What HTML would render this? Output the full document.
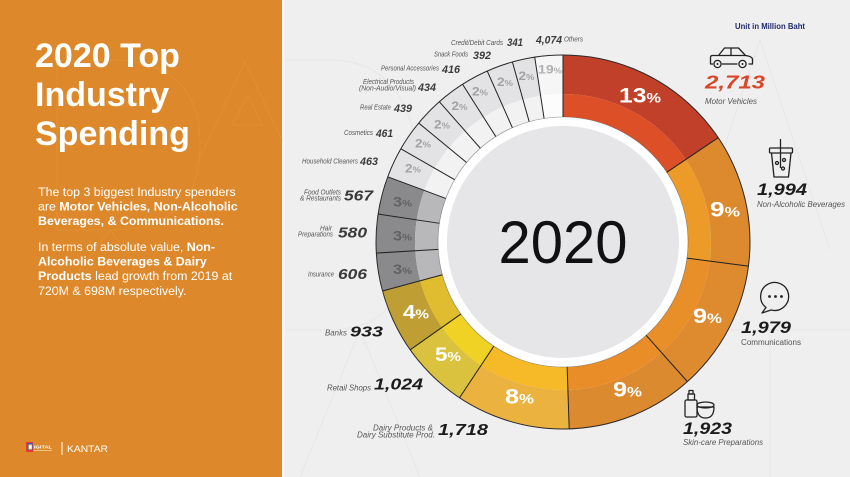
<!DOCTYPE html>
<html>
<head>
<meta charset="utf-8">
<style>
html,body{margin:0;padding:0;background:#efefef;}
body{width:850px;height:477px;overflow:hidden;}
svg{display:block;font-family:"Liberation Sans",Arial,sans-serif;}
</style>
</head>
<body>
<svg width="850" height="477" viewBox="0 0 850 477" xmlns="http://www.w3.org/2000/svg">
  <!-- backgrounds -->
  <rect x="0" y="0" width="850" height="477" fill="#efefef"/>
  <!-- faint watermark letters right -->
  <g fill="none" stroke="#e7e7e7" stroke-width="1">
    <path d="M285 60 V330 H330 Q420 330 420 195 Q420 60 330 60 Z"/>
    <path d="M300 477 L360 330 L420 477"/>
    <path d="M690 250 L760 40 L830 250"/>
    <path d="M720 330 H850 M770 330 V477"/>
  </g>
  <rect x="0" y="0" width="282" height="477" fill="#dd892b"/>
  <rect x="282" y="0" width="3" height="477" fill="#f6f6f6"/>
  <!-- faint watermark letters left -->
  <g fill="none" stroke="#e18f31" stroke-width="1">
    <path d="M57 60 V230 H110 Q200 230 200 145 Q200 60 110 60 Z"/>
    <path d="M195 168 L245 62 L282 140"/>
    <path d="M232 125 L248 95 L262 125 Z"/>
    <path d="M58 300 L110 230 L165 300"/>
  </g>

  <!-- Left panel text -->
  <g fill="#ffffff" font-weight="bold" font-size="34">
    <text x="35" y="67">2020 Top</text>
    <text x="35" y="106">Industry</text>
    <text x="35" y="145">Spending</text>
  </g>
  <g fill="#ffffff" font-size="12.4">
    <text x="38" y="196">The top 3 biggest Industry spenders</text>
    <text x="38" y="210.5">are <tspan font-weight="bold">Motor Vehicles, Non-Alcoholic</tspan></text>
    <text x="38" y="225" font-weight="bold">Beverages, &amp; Communications.</text>
    <text x="38" y="251">In terms of absolute value, <tspan font-weight="bold">Non-</tspan></text>
    <text x="38" y="265.5" font-weight="bold">Alcoholic Beverages &amp; Dairy</text>
    <text x="38" y="280"><tspan font-weight="bold">Products</tspan> lead growth from 2019 at</text>
    <text x="38" y="295">720M &amp; 698M respectively.</text>
  </g>
  <!-- logo -->
  <g>
    <rect x="26" y="442" width="7" height="10" fill="#e53b2c"/>
    <rect x="27.5" y="443" width="5" height="7" fill="#2f5fd0"/>
    <rect x="28.5" y="444.5" width="3.5" height="5" fill="#f7d23a"/>
    <rect x="29" y="445.5" width="2.5" height="3" fill="#ffffff"/>
    <text x="34" y="448.5" font-size="4.6" font-weight="bold" fill="#ffffff" textLength="18" lengthAdjust="spacingAndGlyphs">IGITAL</text>
    <rect x="34" y="450" width="18" height="1" fill="#f0c080"/>
    <rect x="61.5" y="442" width="1" height="13" fill="#ffffff"/>
    <text x="67" y="452" font-size="8.8" fill="#ffffff" textLength="41" lengthAdjust="spacingAndGlyphs">KANTAR</text>
  </g>

  <!-- Donut -->
  <g transform="rotate(-90 563 242)" fill="none">
    <circle cx="563" cy="242" r="167.5" pathLength="360" stroke="#c1402a" stroke-width="39" stroke-dasharray="56.4 360" stroke-dashoffset="0"/>
    <circle cx="563" cy="242" r="167.5" pathLength="360" stroke="#dd8a2f" stroke-width="39" stroke-dasharray="41.6 360" stroke-dashoffset="-56.1"/>
    <circle cx="563" cy="242" r="167.5" pathLength="360" stroke="#de8a2e" stroke-width="39" stroke-dasharray="41.2 360" stroke-dashoffset="-97.4"/>
    <circle cx="563" cy="242" r="167.5" pathLength="360" stroke="#dc8a2f" stroke-width="39" stroke-dasharray="40.1 360" stroke-dashoffset="-138.3"/>
    <circle cx="563" cy="242" r="167.5" pathLength="360" stroke="#ebb240" stroke-width="39" stroke-dasharray="35.8 360" stroke-dashoffset="-178.1"/>
    <circle cx="563" cy="242" r="167.5" pathLength="360" stroke="#dbc23e" stroke-width="39" stroke-dasharray="21.5 360" stroke-dashoffset="-213.6"/>
    <circle cx="563" cy="242" r="167.5" pathLength="360" stroke="#bf9f34" stroke-width="39" stroke-dasharray="20.3 360" stroke-dashoffset="-234.8"/>
    <circle cx="563" cy="242" r="167.5" pathLength="360" stroke="#8a8a8c" stroke-width="39" stroke-dasharray="35.9 360" stroke-dashoffset="-254.8"/>
    <circle cx="563" cy="242" r="167.5" pathLength="360" stroke="#e3e3e5" stroke-width="39" stroke-dasharray="61.2 360" stroke-dashoffset="-290.4"/>
    <circle cx="563" cy="242" r="167.5" pathLength="360" stroke="#f6f6f7" stroke-width="39" stroke-dasharray="8.7 360" stroke-dashoffset="-351.3"/>
    <circle cx="563" cy="242" r="136.5" pathLength="360" stroke="#dc4f27" stroke-width="23" stroke-dasharray="56.4 360" stroke-dashoffset="0"/>
    <circle cx="563" cy="242" r="136.5" pathLength="360" stroke="#ec9a28" stroke-width="23" stroke-dasharray="41.6 360" stroke-dashoffset="-56.1"/>
    <circle cx="563" cy="242" r="136.5" pathLength="360" stroke="#e98f2a" stroke-width="23" stroke-dasharray="41.2 360" stroke-dashoffset="-97.4"/>
    <circle cx="563" cy="242" r="136.5" pathLength="360" stroke="#e98d29" stroke-width="23" stroke-dasharray="40.1 360" stroke-dashoffset="-138.3"/>
    <circle cx="563" cy="242" r="136.5" pathLength="360" stroke="#f6b927" stroke-width="23" stroke-dasharray="35.8 360" stroke-dashoffset="-178.1"/>
    <circle cx="563" cy="242" r="136.5" pathLength="360" stroke="#efd224" stroke-width="23" stroke-dasharray="21.5 360" stroke-dashoffset="-213.6"/>
    <circle cx="563" cy="242" r="136.5" pathLength="360" stroke="#dfbd2e" stroke-width="23" stroke-dasharray="20.3 360" stroke-dashoffset="-234.8"/>
    <circle cx="563" cy="242" r="136.5" pathLength="360" stroke="#b8b8ba" stroke-width="23" stroke-dasharray="35.9 360" stroke-dashoffset="-254.8"/>
    <circle cx="563" cy="242" r="136.5" pathLength="360" stroke="#f2f2f3" stroke-width="23" stroke-dasharray="61.2 360" stroke-dashoffset="-290.4"/>
    <circle cx="563" cy="242" r="136.5" pathLength="360" stroke="#fcfcfc" stroke-width="23" stroke-dasharray="8.7 360" stroke-dashoffset="-351.3"/>
  </g>
  <circle cx="563" cy="242" r="125" fill="#ffffff"/>
  <circle cx="563" cy="242" r="116" fill="#e6e6e8"/>
  <circle cx="563" cy="242" r="187" fill="none" stroke="#2a2a2a" stroke-width="1"/>
  <circle cx="563" cy="242" r="125" fill="none" stroke="#444" stroke-width="0.6" stroke-opacity="0.6"/>
  <g stroke="#222" stroke-width="1">
    <line x1="563" y1="117" x2="563" y2="55"/>
    <line x1="563" y1="117" x2="563" y2="55" transform="rotate(56.1 563 242)"/>
    <line x1="563" y1="117" x2="563" y2="55" transform="rotate(97.4 563 242)"/>
    <line x1="563" y1="117" x2="563" y2="55" transform="rotate(138.3 563 242)"/>
    <line x1="563" y1="117" x2="563" y2="55" transform="rotate(178.1 563 242)"/>
    <line x1="563" y1="117" x2="563" y2="55" transform="rotate(213.6 563 242)"/>
    <line x1="563" y1="117" x2="563" y2="55" transform="rotate(234.8 563 242)"/>
    <line x1="563" y1="117" x2="563" y2="55" transform="rotate(254.8 563 242)"/>
    <line x1="563" y1="117" x2="563" y2="55" transform="rotate(266.6 563 242)"/>
    <line x1="563" y1="117" x2="563" y2="55" transform="rotate(278.6 563 242)"/>
    <line x1="563" y1="117" x2="563" y2="55" transform="rotate(290.4 563 242)"/>
    <line x1="563" y1="117" x2="563" y2="55" transform="rotate(299.9 563 242)"/>
    <line x1="563" y1="117" x2="563" y2="55" transform="rotate(309.5 563 242)"/>
    <line x1="563" y1="117" x2="563" y2="55" transform="rotate(318.6 563 242)"/>
    <line x1="563" y1="117" x2="563" y2="55" transform="rotate(327.5 563 242)"/>
    <line x1="563" y1="117" x2="563" y2="55" transform="rotate(336.1 563 242)"/>
    <line x1="563" y1="117" x2="563" y2="55" transform="rotate(344.3 563 242)"/>
    <line x1="563" y1="117" x2="563" y2="55" transform="rotate(351.3 563 242)"/>
  </g>

  <!-- center year -->
  <text x="563" y="263" text-anchor="middle" font-size="60" fill="#111" textLength="129" lengthAdjust="spacingAndGlyphs">2020</text>

  <!-- ring percent labels -->
  <g font-weight="bold" fill="#ffffff" text-anchor="middle" font-size="21">
    <text x="640" y="102.5" textLength="42" lengthAdjust="spacingAndGlyphs">13<tspan font-size="14">%</tspan></text>
    <text x="725" y="216.5" textLength="30" lengthAdjust="spacingAndGlyphs">9<tspan font-size="14">%</tspan></text>
    <text x="707.5" y="323" textLength="29" lengthAdjust="spacingAndGlyphs">9<tspan font-size="14">%</tspan></text>
    <text x="627.5" y="396.5" textLength="29" lengthAdjust="spacingAndGlyphs">9<tspan font-size="14">%</tspan></text>
    <text x="519.5" y="403.3" textLength="29" lengthAdjust="spacingAndGlyphs">8<tspan font-size="14">%</tspan></text>
    <text x="448" y="361" textLength="26" lengthAdjust="spacingAndGlyphs" font-size="19">5<tspan font-size="13">%</tspan></text>
    <text x="416" y="318.3" textLength="26" lengthAdjust="spacingAndGlyphs" font-size="19">4<tspan font-size="13">%</tspan></text>
  </g>
  <g font-weight="bold" fill="#626262" text-anchor="middle" font-size="14">
    <text x="402.5" y="206.5" textLength="19" lengthAdjust="spacingAndGlyphs">3<tspan font-size="9.5">%</tspan></text>
    <text x="402.5" y="240.5" textLength="19" lengthAdjust="spacingAndGlyphs">3<tspan font-size="9.5">%</tspan></text>
    <text x="402.5" y="274" textLength="19" lengthAdjust="spacingAndGlyphs">3<tspan font-size="9.5">%</tspan></text>
  </g>
  <g font-weight="bold" fill="#a2a2a4" text-anchor="middle" font-size="11.5">
    <text x="413" y="172.5" textLength="16" lengthAdjust="spacingAndGlyphs">2<tspan font-size="8">%</tspan></text>
    <text x="423" y="147.5" textLength="16" lengthAdjust="spacingAndGlyphs">2<tspan font-size="8">%</tspan></text>
    <text x="442" y="128.5" textLength="16" lengthAdjust="spacingAndGlyphs">2<tspan font-size="8">%</tspan></text>
    <text x="459.5" y="110" textLength="16" lengthAdjust="spacingAndGlyphs">2<tspan font-size="8">%</tspan></text>
    <text x="480" y="95.5" textLength="16" lengthAdjust="spacingAndGlyphs">2<tspan font-size="8">%</tspan></text>
    <text x="505" y="86" textLength="16" lengthAdjust="spacingAndGlyphs">2<tspan font-size="8">%</tspan></text>
    <text x="526.5" y="80" textLength="16" lengthAdjust="spacingAndGlyphs">2<tspan font-size="8">%</tspan></text>
    <text x="550" y="73.5" textLength="24" lengthAdjust="spacingAndGlyphs" fill="#b0b0b2" font-size="12">19<tspan font-size="8">%</tspan></text>
  </g>

  <!-- category labels -->
  <g font-style="italic" fill="#555" font-size="7">
    <text x="451" y="45" textLength="52" lengthAdjust="spacingAndGlyphs">Credit/Debit Cards</text>
    <text x="564" y="41.5" textLength="19" lengthAdjust="spacingAndGlyphs">Others</text>
    <text x="434" y="56.5" textLength="34" lengthAdjust="spacingAndGlyphs">Snack Foods</text>
    <text x="381" y="70.5" textLength="58" lengthAdjust="spacingAndGlyphs">Personal Accessories</text>
    <text x="363" y="84" textLength="51" lengthAdjust="spacingAndGlyphs">Electrical Products</text>
    <text x="359" y="90.3" textLength="57" lengthAdjust="spacingAndGlyphs">(Non-Audio/Visual)</text>
    <text x="360" y="109.5" textLength="31" lengthAdjust="spacingAndGlyphs">Real Estate</text>
    <text x="344" y="135" textLength="29" lengthAdjust="spacingAndGlyphs">Cosmetics</text>
    <text x="302" y="163.5" textLength="56" lengthAdjust="spacingAndGlyphs">Household Cleaners</text>
    <text x="304" y="194.5" textLength="37" lengthAdjust="spacingAndGlyphs">Food Outlets</text>
    <text x="300" y="200.5" textLength="41" lengthAdjust="spacingAndGlyphs">&amp; Restaurants</text>
    <text x="320" y="230.5" textLength="12" lengthAdjust="spacingAndGlyphs">Hair</text>
    <text x="298" y="236.5" textLength="35" lengthAdjust="spacingAndGlyphs">Preparations</text>
    <text x="308" y="276.5" textLength="26" lengthAdjust="spacingAndGlyphs">Insurance</text>
    <text x="325" y="335.5" textLength="22" lengthAdjust="spacingAndGlyphs" font-size="8">Banks</text>
    <text x="327" y="390.5" textLength="44" lengthAdjust="spacingAndGlyphs" font-size="8">Retail Shops</text>
    <text x="373" y="430.5" textLength="60" lengthAdjust="spacingAndGlyphs" font-size="8">Dairy Products &amp;</text>
    <text x="357" y="437.5" textLength="78" lengthAdjust="spacingAndGlyphs" font-size="8">Dairy Substitute Prod.</text>
    <text x="705" y="104" textLength="52" lengthAdjust="spacingAndGlyphs" font-size="8">Motor Vehicles</text>
    <text x="757" y="207" textLength="88" lengthAdjust="spacingAndGlyphs" font-size="8">Non-Alcoholic Beverages</text>
    <text x="741" y="345" textLength="60" lengthAdjust="spacingAndGlyphs" font-size="8" font-style="normal">Communications</text>
    <text x="683" y="445" textLength="80" lengthAdjust="spacingAndGlyphs" font-size="8">Skin-care Preparations</text>
  </g>

  <!-- values -->
  <g font-weight="bold" font-style="italic">
    <g fill="#3c3c3c" font-size="11">
      <text x="507" y="46" textLength="16" lengthAdjust="spacingAndGlyphs">341</text>
      <text x="536" y="43.5" textLength="26" lengthAdjust="spacingAndGlyphs">4,074</text>
      <text x="473" y="59" textLength="18" lengthAdjust="spacingAndGlyphs">392</text>
      <text x="442" y="73" textLength="18" lengthAdjust="spacingAndGlyphs">416</text>
      <text x="418" y="91" textLength="18" lengthAdjust="spacingAndGlyphs">434</text>
      <text x="394" y="112" textLength="18" lengthAdjust="spacingAndGlyphs">439</text>
      <text x="376" y="137" textLength="17" lengthAdjust="spacingAndGlyphs">461</text>
      <text x="360" y="165" textLength="18" lengthAdjust="spacingAndGlyphs">463</text>
    </g>
    <g fill="#3a3a3a" font-size="15">
      <text x="344" y="200.5" textLength="29" lengthAdjust="spacingAndGlyphs">567</text>
      <text x="338" y="237.5" textLength="29" lengthAdjust="spacingAndGlyphs">580</text>
      <text x="338" y="279" textLength="29" lengthAdjust="spacingAndGlyphs">606</text>
    </g>
    <g fill="#1c1c1c">
      <text x="350" y="336.5" font-size="15" textLength="33" lengthAdjust="spacingAndGlyphs">933</text>
      <text x="374" y="389.5" font-size="15.5" textLength="49" lengthAdjust="spacingAndGlyphs">1,024</text>
      <text x="438" y="435" font-size="16" textLength="50" lengthAdjust="spacingAndGlyphs">1,718</text>
      <text x="757" y="195" font-size="16.5" textLength="50" lengthAdjust="spacingAndGlyphs">1,994</text>
      <text x="741" y="333" font-size="16.5" textLength="50" lengthAdjust="spacingAndGlyphs">1,979</text>
      <text x="683" y="434" font-size="16.5" textLength="49" lengthAdjust="spacingAndGlyphs">1,923</text>
    </g>
    <text x="705" y="88.5" font-size="18.5" fill="#d9472b" textLength="60" lengthAdjust="spacingAndGlyphs">2,713</text>
  </g>

  <text x="735" y="29" font-size="8.5" font-weight="bold" fill="#1f2a6e" textLength="70" lengthAdjust="spacingAndGlyphs">Unit in Million Baht</text>

  <!-- icons -->
  <g fill="none" stroke="#222" stroke-width="1.3" stroke-linejoin="round">
    <path d="M713 64 H710.5 V57.5 Q710.5 55.5 712.5 55.5 H718.5 L724.5 48 H738.5 L745.5 55.5 Q752.5 56.5 752.5 59.5 V64 H748.5"/>
    <path d="M722 64 H737.5"/>
    <path d="M731 48.5 V55.5 M718.5 55.5 H745.5"/>
    <circle cx="717.5" cy="64" r="3.6"/>
    <circle cx="742.5" cy="64" r="3.6"/>
    <path d="M780.5 139 V168"/>
    <rect x="769.5" y="148" width="23" height="5" rx="1"/>
    <path d="M771.5 153 L774 177 H788.5 L791 153"/>
    <circle cx="777" cy="163" r="1.5"/>
    <circle cx="784" cy="160" r="1.5"/>
    <circle cx="783" cy="168.5" r="1.5"/>
    <path d="M766 307.5 A14 14 0 1 1 771 310 L762 313 Z"/>
    <rect x="685" y="400" width="12" height="17" rx="1.5"/>
    <rect x="688" y="394" width="6.5" height="6"/>
    <rect x="689" y="390.5" width="4" height="3.5"/>
    <path d="M697 407 Q697 418 705.5 418 Q714 418 714 407 Z"/>
    <ellipse cx="705.5" cy="405" rx="8.5" ry="3"/>
  </g>
  <g fill="#222">
    <circle cx="717.5" cy="64" r="1"/>
    <circle cx="742.5" cy="64" r="1"/>
    <circle cx="769.5" cy="296.5" r="1.4"/>
    <circle cx="775.5" cy="296.5" r="1.4"/>
    <circle cx="781.5" cy="296.5" r="1.4"/>
  </g>
</svg>
</body>
</html>
